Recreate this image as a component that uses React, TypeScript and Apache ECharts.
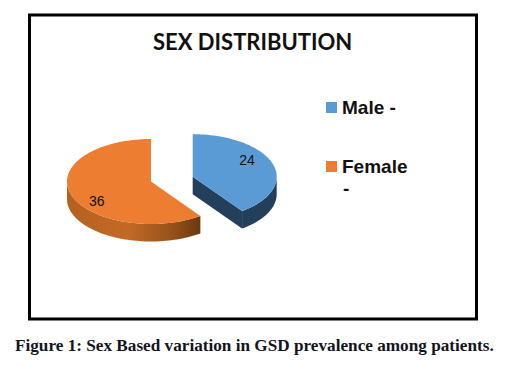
import React, { useEffect, useRef } from "react";
import * as echarts from "echarts";

const categories = ["Male -", "Female"];
const values = [24, 36];
const colors = ["#5b9bd5", "#ed7d31"];
const titleText = "SEX DISTRIBUTION";
const captionText = "Figure 1: Sex Based variation in GSD prevalence among patients.";

const total = values.reduce((a, b) => a + b, 0);
const RX = 84;
const RY = 42.5;
const DEPTH = 17.5;
const centers = [
  [192.7, 176.7],
  [151, 181.5],
];
const sideFills: any[] = [
  "#233f5c",
  new echarts.graphic.LinearGradient(0, 0, 1, 0, [
    { offset: 0, color: "#b4601f" },
    { offset: 0.45, color: "#c46a27" },
    { offset: 0.8, color: "#94501a" },
    { offset: 1, color: "#6b3810" },
  ]),
];

function point(cx: number, cy: number, deg: number, dy = 0) {
  const a = (deg * Math.PI) / 180;
  return [cx + RX * Math.sin(a), cy - RY * Math.cos(a) + dy];
}

function arc(cx: number, cy: number, from: number, to: number, dy = 0) {
  const pts: number[][] = [];
  const n = Math.max(2, Math.ceil(Math.abs(to - from) / 2));
  for (let i = 0; i <= n; i++) pts.push(point(cx, cy, from + ((to - from) * i) / n, dy));
  return pts;
}

function makeRender(index: number) {
  return (_params: any, api: any) => {
    const value = api.value(0) as number;
    const before = values.slice(0, index).reduce((a, b) => a + b, 0);
    const start = (before / total) * 360;
    const end = start + (value / total) * 360;
    const [cx, cy] = centers[index];
    const children: any[] = [];
    const rimFrom = Math.max(start, 90);
    const rimTo = Math.min(end, 270);
    if (rimTo > rimFrom) {
      children.push({
        type: "polygon",
        shape: {
          points: [...arc(cx, cy, rimFrom, rimTo), ...arc(cx, cy, rimTo, rimFrom, DEPTH)],
        },
        style: { fill: sideFills[index] },
      });
    }
    if (end < 180) {
      const e = point(cx, cy, end);
      children.push({
        type: "polygon",
        shape: { points: [[cx, cy], e, [e[0], e[1] + DEPTH], [cx, cy + DEPTH]] },
        style: { fill: sideFills[index] },
      });
    }
    children.push({
      type: "polygon",
      shape: { points: [[cx, cy], ...arc(cx, cy, start, end)] },
      style: { fill: colors[index] },
    });
    const mid = (((start + end) / 2) * Math.PI) / 180;
    children.push({
      type: "text",
      x: cx + 0.68 * RX * Math.sin(mid),
      y: cy - 1.35 * RY * Math.cos(mid) + 1.5,
      style: {
        text: String(value),
        fill: "#111111",
        fontFamily: "Liberation Sans",
        fontSize: 14,
        align: "center",
        verticalAlign: "middle",
      },
    });
    return { type: "group", children };
  };
}

export default function App() {
  const ref = useRef<HTMLDivElement>(null);
  useEffect(() => {
    const chart = echarts.init(ref.current!, undefined, { renderer: "svg" });
    chart.setOption({
      animation: false,
      backgroundColor: "#ffffff",
      title: [
        {
          text: titleText,
          left: 153,
          top: 30,
          padding: 0,
          textStyle: { fontFamily: "Lato", fontWeight: "bold", fontSize: 22, color: "#111111" },
        },
        {
          text: captionText,
          left: 15,
          top: 337,
          padding: 0,
          textStyle: { fontFamily: "Liberation Serif", fontWeight: "bold", fontSize: 17.2, color: "#14141e" },
        },
      ],
      legend: {
        orient: "vertical",
        left: 326,
        top: 98,
        padding: 0,
        icon: "rect",
        itemWidth: 11,
        itemHeight: 11,
        itemGap: 40,
        data: categories,
        selectedMode: false,
        textStyle: { fontFamily: "Liberation Sans", fontWeight: "bold", fontSize: 19, color: "#111111" },
      },
      graphic: [
        {
          type: "rect",
          silent: true,
          shape: { x: 29.5, y: 15, width: 447, height: 304 },
          style: { fill: "none", stroke: "#000000", lineWidth: 3 },
        },
        {
          type: "text",
          silent: true,
          x: 343,
          y: 179,
          style: {
            text: "-",
            fontFamily: "Liberation Sans",
            fontWeight: "bold",
            fontSize: 19,
            fill: "#111111",
          },
        },
      ],
      series: categories.map((name, i) => ({
        type: "custom",
        name,
        coordinateSystem: "none",
        silent: true,
        itemStyle: { color: colors[i] },
        data: [[values[i]]],
        renderItem: makeRender(i),
      })),
    });
    return () => chart.dispose();
  }, []);
  return (
    <div
      ref={ref}
      style={{ position: "fixed", left: 0, top: 0, width: 509, height: 366 }}
    />
  );
}
